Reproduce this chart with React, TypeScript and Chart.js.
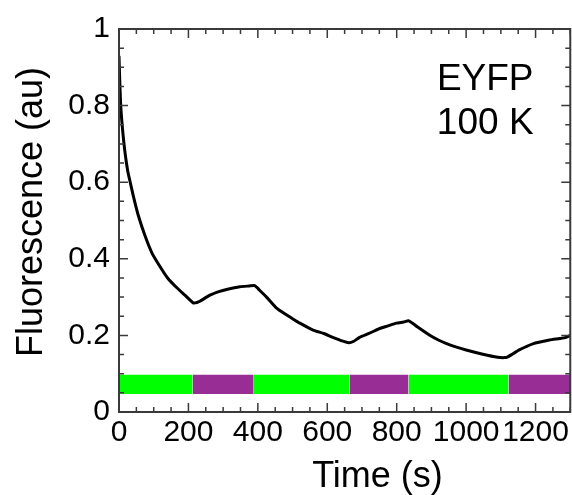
import React, { useEffect, useRef } from "react";
import { Chart, registerables } from "chart.js";

Chart.register(...registerables);

// ---- data ----
const timeS = [
  0, 2, 5, 10, 17, 25, 31, 41, 55, 75, 95, 118, 140, 166, 190, 214, 225, 233, 262, 290,
  310, 348, 375, 391, 405, 425, 453, 480, 501, 521, 559, 590, 616, 645, 662, 675, 693,
  720, 751, 775, 799, 820, 835, 860, 894, 920, 942, 970, 1000, 1048, 1091, 1110, 1120,
  1135, 1153, 1192, 1240, 1270, 1288, 1300,
];
const fluorescence = [
  0.93, 0.87, 0.8, 0.74, 0.68, 0.63, 0.605, 0.565, 0.515, 0.46, 0.415, 0.38, 0.35, 0.325,
  0.305, 0.285, 0.286, 0.289, 0.305, 0.315, 0.32, 0.327, 0.329, 0.33, 0.318, 0.3, 0.272,
  0.255, 0.243, 0.232, 0.214, 0.205, 0.195, 0.185, 0.181, 0.184, 0.195, 0.205, 0.218,
  0.225, 0.232, 0.235, 0.238, 0.222, 0.201, 0.188, 0.179, 0.17, 0.162, 0.151, 0.143,
  0.142, 0.144, 0.152, 0.162, 0.178, 0.188, 0.192, 0.195, 0.2,
];
const barStarts = [0, 212, 388, 664, 834, 1122];
const barEnds = [212, 388, 664, 834, 1122, 1300];
const barColors = ["#00ff00", "#992d96", "#00ff00", "#992d96", "#00ff00", "#992d96"];
const barBottom = 0.047;
const barTop = 0.097;
const xTickLabels = [0, 200, 400, 600, 800, 1000, 1200];
const yTickLabels = [0, 0.2, 0.4, 0.6, 0.8, 1];
const annotationLines = ["EYFP", "100 K"];
const xTitle = "Time (s)";
const yTitle = "Fluorescence (au)";

const FONT = "'Liberation Sans', Arial, sans-serif";

const framePlugin = {
  id: "frameTicks",
  afterDatasetsDraw(chart: any) {
    const { ctx, chartArea } = chart;
    const xs = chart.scales.x;
    const ys = chart.scales.y;
    const { left, right, top, bottom } = chartArea;
    ctx.save();
    ctx.strokeStyle = "#3a3a3a";
    ctx.lineWidth = 2;
    ctx.strokeRect(left, top, right - left, bottom - top);
    ctx.lineWidth = 1.5;
    ctx.beginPath();
    for (let v = 0; v <= 1300 + 1e-6; v += 50) {
      const px = xs.getPixelForValue(v);
      const len = Math.abs(v % 200) < 1e-6 ? 9 : 5;
      ctx.moveTo(px, bottom);
      ctx.lineTo(px, bottom - len);
      ctx.moveTo(px, top);
      ctx.lineTo(px, top + len);
    }
    for (let i = 0; i <= 20; i++) {
      const v = i * 0.05;
      const py = ys.getPixelForValue(v);
      const len = i % 4 === 0 ? 9 : 5;
      ctx.moveTo(left, py);
      ctx.lineTo(left + len, py);
      ctx.moveTo(right, py);
      ctx.lineTo(right - len, py);
    }
    ctx.stroke();

    // annotation
    ctx.fillStyle = "#000";
    ctx.font = `37px ${FONT}`;
    ctx.textAlign = "center";
    ctx.textBaseline = "alphabetic";
    const ax = xs.getPixelForValue(1055);
    ctx.fillText(annotationLines[0], ax, ys.getPixelForValue(0.841));
    ctx.fillText(annotationLines[1], ax, ys.getPixelForValue(0.726));

    // axis titles
    ctx.font = `36px ${FONT}`;
    ctx.fillText(xTitle, 377.5, 487);
    ctx.translate(42, 212);
    ctx.rotate(-Math.PI / 2);
    ctx.fillText(yTitle, 0, 0);
    ctx.restore();
  },
};

export default function App() {
  const ref = useRef<HTMLCanvasElement | null>(null);
  useEffect(() => {
    if (!ref.current) return;
    const barSets = barStarts.map((s, i) => ({
      type: "line" as const,
      data: [
        { x: s, y: barTop },
        { x: barEnds[i], y: barTop },
      ],
      borderWidth: 0,
      borderColor: barColors[i],
      backgroundColor: barColors[i],
      pointRadius: 0,
      fill: { value: barBottom },
    }));
    const chart = new Chart(ref.current, {
      type: "line",
      data: {
        datasets: [
          ...barSets,
          {
            data: timeS.map((t, i) => ({ x: t, y: fluorescence[i] })),
            borderColor: "#000",
            borderWidth: 3,
            pointRadius: 0,
            fill: false,
            tension: 0.2,
          },
        ],
      },
      options: {
        responsive: false,
        animation: false,
        layout: { padding: { left: 0, top: 29, right: 1, bottom: 0 } },
        plugins: { legend: { display: false }, tooltip: { enabled: false } },
        scales: {
          x: {
            type: "linear",
            min: 0,
            max: 1300,
            grid: { display: false, drawTicks: false, tickLength: 0 },
            border: { display: false },
            afterBuildTicks: (s: any) => {
              s.ticks = xTickLabels.map((v) => ({ value: v }));
            },
            afterFit: (s: any) => {
              s.height = 83;
            },
            ticks: {
              autoSkip: false,
              maxRotation: 0,
              padding: 3,
              color: "#000",
              font: { family: FONT, size: 30 },
              callback: (v: any) => String(v),
            },
          },
          y: {
            type: "linear",
            min: 0,
            max: 1,
            grid: { display: false, drawTicks: false, tickLength: 0 },
            border: { display: false },
            afterBuildTicks: (s: any) => {
              s.ticks = yTickLabels.map((v) => ({ value: v }));
            },
            afterFit: (s: any) => {
              s.width = 119;
            },
            ticks: {
              autoSkip: false,
              padding: 9,
              color: "#000",
              font: { family: FONT, size: 30 },
              callback: (v: any) => String(v),
            },
          },
        },
      },
      plugins: [framePlugin],
    });
    return () => chart.destroy();
  }, []);
  return (
    <div style={{ position: "absolute", left: 0, top: 0, width: 572, height: 495, background: "#fff" }}>
      <canvas ref={ref} width={572} height={495} style={{ display: "block" }} />
    </div>
  );
}
